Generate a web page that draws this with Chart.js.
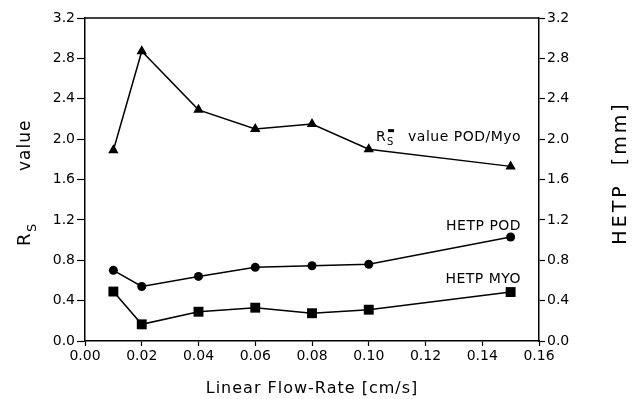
<!DOCTYPE html>
<html>
<head>
<meta charset="utf-8">
<script src="https://cdn.jsdelivr.net/npm/chart.js@4"></script>
<style>
  html, body { margin: 0; padding: 0; background: #fff; }
  #wrap { width: 634px; height: 399px; }
</style>
</head>
<body>
<div id="wrap"><canvas id="chart" width="634" height="399"></canvas></div>
<script>
// flow rate [cm/s]
const flowRates = [0.01, 0.02, 0.04, 0.06, 0.08, 0.10, 0.15];
// Rs value POD/Myo
const rsValues = [1.89, 2.87, 2.29, 2.10, 2.15, 1.90, 1.73];
// HETP [mm]
const hetpPod = [0.70, 0.54, 0.64, 0.73, 0.745, 0.76, 1.03];
const hetpMyo = [0.49, 0.165, 0.29, 0.33, 0.275, 0.31, 0.485];
const xTicks = [0, 0.02, 0.04, 0.06, 0.08, 0.10, 0.12, 0.14, 0.16];
const yTicks = [0, 0.4, 0.8, 1.2, 1.6, 2.0, 2.4, 2.8, 3.2];

const FONT = "'DejaVu Sans', sans-serif";

function pts(ys) {
    return flowRates.map((x, i) => ({ x: x, y: ys[i] }));
}

function series(ys, style, r, axis) {
    return {
        data: pts(ys),
        yAxisID: axis,
        borderColor: "#000",
        backgroundColor: "#000",
        borderWidth: 1.5,
        pointStyle: style,
        pointRadius: r,
        pointBorderWidth: 0,
        tension: 0
    };
}

// draws the frame, axis titles and the in-plot labels
const decor = {
    id: "decor",
    afterDraw(chart) {
        const ctx = chart.ctx;
        const a = chart.chartArea;
        const xs = chart.scales.x;
        const ys = chart.scales.y;
        ctx.save();
        ctx.strokeStyle = "#000";
        ctx.lineWidth = 1.5;
        ctx.beginPath();
        ctx.moveTo(a.left, a.top);
        ctx.lineTo(a.right, a.top);
        ctx.stroke();

        ctx.fillStyle = "#000";
        // x title
        ctx.font = "16px " + FONT;
        ctx.letterSpacing = "1px";
        ctx.textAlign = "center";
        ctx.textBaseline = "alphabetic";
        ctx.fillText("Linear Flow-Rate [cm/s]", (a.left + a.right) / 2, 393);

        // left title: R_S   value
        ctx.save();
        ctx.translate(30, 0);
        ctx.rotate(-Math.PI / 2);
        ctx.textAlign = "left";
        ctx.font = "18px " + FONT;
        ctx.fillText("R", -246, 0);
        ctx.font = "13px " + FONT;
        ctx.fillText("S", -232, 6);
        ctx.font = "17px " + FONT;
        ctx.fillText("value", -171, 0);
        ctx.restore();

        // right title
        ctx.save();
        ctx.translate(626, 173);
        ctx.rotate(-Math.PI / 2);
        ctx.textAlign = "center";
        ctx.font = "19px " + FONT;
        ctx.letterSpacing = "3px";
        ctx.fillText("HETP  [mm]", 0, 0);
        ctx.restore();

        // in-plot labels
        ctx.font = "14px " + FONT;
        ctx.letterSpacing = "0.5px";
        ctx.textAlign = "right";
        const xr = xs.getPixelForValue(0.1537);
        const ry = ys.getPixelForValue(1.98);
        ctx.fillText("value POD/Myo", xr, ry);
        const wv = ctx.measureText("value POD/Myo").width;
        ctx.textAlign = "left";
        const rx = xr - wv - 32;
        ctx.fillText("R", rx, ry);
        ctx.font = "10px " + FONT;
        ctx.fillText("S", rx + 11, ry + 4);
        ctx.fillRect(rx + 12, ry - 12, 6, 3);
        ctx.font = "14px " + FONT;
        ctx.textAlign = "right";
        ctx.fillText("HETP POD", xr, ys.getPixelForValue(1.10));
        ctx.fillText("HETP MYO", xr, ys.getPixelForValue(0.575));
        ctx.restore();
    }
};

const tickFont = { family: FONT, size: 14 };

function axisGrid(len) {
    return { display: true, drawOnChartArea: false, drawTicks: true, tickLength: len, tickColor: "#000", tickWidth: 1.2 };
}

new Chart(document.getElementById("chart").getContext("2d"), {
    type: "line",
    data: {
        datasets: [
            series(rsValues, "triangle", 6, "y"),
            series(hetpPod, "circle", 4.5, "y2"),
            series(hetpMyo, "rect", 7, "y2")
        ]
    },
    options: {
        responsive: false,
        animation: false,
        layout: { padding: { top: 18 } },
        plugins: { legend: { display: false }, tooltip: { enabled: false } },
        scales: {
            x: {
                type: "linear",
                min: 0, max: 0.16,
                afterBuildTicks: s => { s.ticks = xTicks.map(v => ({ value: v })); },
                afterFit: s => { s.height = 58; },
                grid: axisGrid(5),
                border: { color: "#000", width: 1.5 },
                ticks: {
                    color: "#000", font: tickFont, padding: 2, maxRotation: 0,
                    callback: v => v.toFixed(2)
                }
            },
            y: {
                position: "left",
                min: 0, max: 3.2,
                afterBuildTicks: s => { s.ticks = yTicks.map(v => ({ value: v })); },
                afterFit: s => { s.width = 85; },
                grid: axisGrid(8),
                border: { color: "#000", width: 1.5 },
                ticks: { color: "#000", font: tickFont, padding: 2, callback: v => v.toFixed(1) }
            },
            y2: {
                position: "right",
                min: 0, max: 3.2,
                afterBuildTicks: s => { s.ticks = yTicks.map(v => ({ value: v })); },
                afterFit: s => { s.width = 95; },
                grid: axisGrid(6),
                border: { color: "#000", width: 1.5 },
                ticks: { color: "#000", font: tickFont, padding: 2, callback: v => v.toFixed(1) }
            }
        }
    },
    plugins: [decor]
});
</script>
</body>
</html>
